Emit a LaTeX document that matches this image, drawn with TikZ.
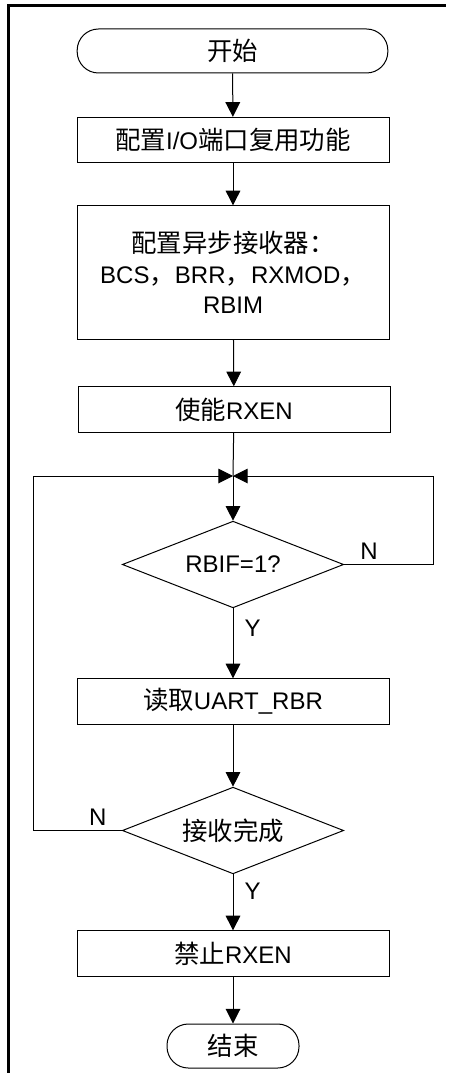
\documentclass[tikz,border=0pt]{standalone}
\usepackage{fontspec}
\setmainfont{Liberation Sans}
\newfontfamily\zhfont[Scale=1.06]{Noto Sans CJK SC}
\newcommand\zh[1]{{\zhfont #1}}
\usetikzlibrary{shapes.geometric,arrows.meta}
\begin{document}
\begin{tikzpicture}[x=0.75pt,y=-0.75pt,
  font=\fontsize{18}{23}\selectfont,
  arr/.style={-{Triangle[length=11pt,width=11pt]}, line width=0.75pt},
  term/.style={draw, line width=0.75pt, rounded corners=16pt, minimum height=33pt, inner sep=0pt},
  procbox/.style={draw, line width=0.75pt, minimum width=234pt, minimum height=34pt, align=center, inner sep=0pt},
  decide/.style={draw, diamond, line width=0.75pt, aspect=2.5, inner sep=0pt, minimum width=166pt, minimum height=65pt},
  lbl/.style={font=\fontsize{18}{20}\selectfont}]
\useasboundingbox (0,0) rectangle (450,1073);
\draw[line width=1.6pt] (8.5,1073) -- (8.5,5.5) -- (446,5.5);
\node[term, minimum width=233pt] (start) at (232.5,51) {\zh{开始}};
\node[procbox] (cfgio) at (233,140) {\zh{配置}I/O\zh{端口复用功能}};
\node[procbox, minimum height=100pt] (cfgrx) at (233,272.5)
{\zh{配置异步接收器：}\\BCS\zh{，}BRR\zh{，}RXMOD\zh{，}\\RBIM};
\node[procbox] (enrx) at (234,409.5) {\zh{使能}RXEN};
\coordinate (merge) at (233,476);
\coordinate (rloop) at (433,476);
\coordinate (lloop) at (33,476);
\node[decide] (chk) at (233,564.5) {RBIF=1?};
\node[procbox] (rdbuf) at (233,701.5) {\zh{读取}UART\_RBR};
\node[decide] (done) at (233,830.5) {\zh{接收完成}};
\node[procbox] (disrx) at (233,953.5) {\zh{禁止}RXEN};
\node[term, minimum width=99pt] (stop) at (233,1046) {\zh{结束}};
\draw[arr] (start) -- (cfgio);
\draw[arr] (cfgio) -- (cfgrx);
\draw[arr] (cfgrx) -- (enrx);
\draw[line width=0.75pt] (enrx) -- (merge);
\draw[arr] (merge) -- (chk);
\draw[arr] (chk.east) -- node[lbl, above, pos=0.28] {N} (chk.east -| rloop) -- (rloop) -- (merge);
\draw[arr] (chk) -- node[lbl, right=5pt, pos=0.28] {Y} (rdbuf);
\draw[arr] (rdbuf) -- (done);
\draw[arr] (done.west) -- node[lbl, above, pos=0.27] {N} (done.west -| lloop) -- (lloop) -- (merge);
\draw[arr] (done) -- node[lbl, right=5pt, pos=0.3] {Y} (disrx);
\draw[arr] (disrx) -- (stop);
\end{tikzpicture}
\end{document}
